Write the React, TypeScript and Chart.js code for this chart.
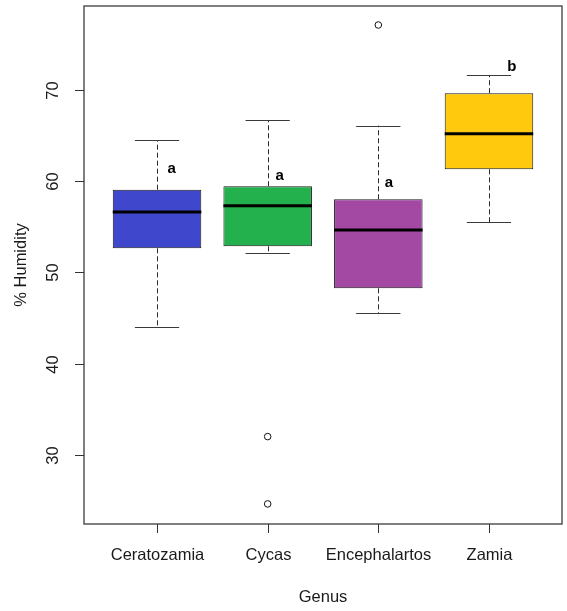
import React, { useEffect, useRef } from "react";
import { Chart, registerables } from "chart.js";

Chart.register(...registerables);

// ---- data ----
const categories = ["Ceratozamia", "Cycas", "Encephalartos", "Zamia"];
const whiskerLow = [44.05, 52.15, 45.52, 55.48];
const q1 = [52.63, 52.85, 48.25, 61.28];
const medians = [56.61, 57.3, 54.64, 65.18];
const q3 = [59.05, 59.42, 58.0, 69.61];
const whiskerHigh = [64.46, 66.68, 66.06, 71.61];
const outlierGroup = [2, 2, 3];
const outlierValues = [32.01, 24.64, 77.08];
const letters = ["a", "a", "a", "b"];
const letterX = [1.132, 2.108, 3.096, 4.207];
const letterY = [61.3, 60.6, 59.75, 72.5];
const yTicks = [30, 40, 50, 60, 70];
const boxColors = ["#3F48CC", "#22B14C", "#A349A4", "#FFC90E"];
const yMin = 22.44;
const yMax = 79.16;

const FONT = "'Liberation Sans', Arial, sans-serif";

const boxPlugin = {
  id: "rboxplot",
  afterDatasetsDraw(chart: any) {
    const { ctx, scales } = chart;
    const x = scales.x;
    const y = scales.y;
    const meta = chart.getDatasetMeta(0);
    ctx.save();
    categories.forEach((_, i) => {
      const bar = meta.data[i];
      const cx = x.getPixelForValue(i + 1);
      const half = bar.width / 2;
      const px = Math.round(cx) + 0.5;
      // dashed whiskers
      ctx.strokeStyle = "#2a2a2a";
      ctx.lineWidth = 1;
      ctx.setLineDash([5, 3]);
      ctx.beginPath();
      ctx.moveTo(px, y.getPixelForValue(q3[i]));
      ctx.lineTo(px, y.getPixelForValue(whiskerHigh[i]));
      ctx.moveTo(px, y.getPixelForValue(q1[i]));
      ctx.lineTo(px, y.getPixelForValue(whiskerLow[i]));
      ctx.stroke();
      ctx.setLineDash([]);
      // caps
      ctx.strokeStyle = "#3a3a3a";
      ctx.beginPath();
      const yh = Math.round(y.getPixelForValue(whiskerHigh[i])) + 0.5;
      const yl = Math.round(y.getPixelForValue(whiskerLow[i])) + 0.5;
      ctx.moveTo(cx - half / 2, yh);
      ctx.lineTo(cx + half / 2, yh);
      ctx.moveTo(cx - half / 2, yl);
      ctx.lineTo(cx + half / 2, yl);
      ctx.stroke();
      // median
      ctx.strokeStyle = "#000";
      ctx.lineWidth = 3;
      ctx.beginPath();
      const ym = y.getPixelForValue(medians[i]);
      ctx.moveTo(cx - half, ym);
      ctx.lineTo(cx + half, ym);
      ctx.stroke();
      // significance letters
      ctx.fillStyle = "#000";
      ctx.font = `bold 15px ${FONT}`;
      ctx.textAlign = "center";
      ctx.textBaseline = "middle";
      ctx.fillText(letters[i], x.getPixelForValue(letterX[i]), y.getPixelForValue(letterY[i]));
    });
    ctx.restore();
  },
  afterDraw(chart: any) {
    const { ctx, chartArea: a, scales } = chart;
    const x = scales.x;
    const y = scales.y;
    ctx.save();
    // plot frame
    ctx.strokeStyle = "#555";
    ctx.lineWidth = 1.5;
    ctx.strokeRect(a.left, a.top, a.right - a.left, a.bottom - a.top);
    ctx.lineWidth = 1;
    ctx.strokeStyle = "#333";
    ctx.fillStyle = "#1a1a1a";
    ctx.font = `16.5px ${FONT}`;
    // y ticks
    yTicks.forEach((t) => {
      const py = Math.round(y.getPixelForValue(t)) + 0.5;
      ctx.beginPath();
      ctx.moveTo(a.left - 9, py);
      ctx.lineTo(a.left, py);
      ctx.stroke();
      ctx.save();
      ctx.translate(a.left - 31, py);
      ctx.rotate(-Math.PI / 2);
      ctx.textAlign = "center";
      ctx.textBaseline = "middle";
      ctx.fillText(String(t), 0, 0);
      ctx.restore();
    });
    // x ticks
    categories.forEach((c, i) => {
      const px = Math.round(x.getPixelForValue(i + 1)) + 0.5;
      ctx.beginPath();
      ctx.moveTo(px, a.bottom);
      ctx.lineTo(px, a.bottom + 9);
      ctx.stroke();
      ctx.textAlign = "center";
      ctx.textBaseline = "middle";
      ctx.fillText(c, px, a.bottom + 31);
    });
    // axis titles
    ctx.textAlign = "center";
    ctx.textBaseline = "middle";
    ctx.fillText("Genus", (a.left + a.right) / 2, a.bottom + 73);
    ctx.save();
    ctx.translate(a.left - 63, (a.top + a.bottom) / 2);
    ctx.rotate(-Math.PI / 2);
    ctx.fillText("% Humidity", 0, 0);
    ctx.restore();
    ctx.restore();
  },
};

export default function App() {
  const ref = useRef<HTMLCanvasElement | null>(null);
  useEffect(() => {
    if (!ref.current) return;
    const chart = new Chart(ref.current, {
      type: "bar",
      data: {
        datasets: [
          {
            type: "bar",
            data: categories.map((_, i) => ({ x: i + 1, y: [q1[i], q3[i]] })) as any,
            backgroundColor: boxColors,
            borderColor: "#1a1a1a",
            borderWidth: 1,
            borderSkipped: false,
            barPercentage: 0.8,
            categoryPercentage: 1,
          } as any,
          {
            type: "scatter",
            data: outlierGroup.map((g, i) => ({ x: g, y: outlierValues[i] })),
            pointRadius: 3.3,
            pointBackgroundColor: "rgba(0,0,0,0)",
            pointBorderColor: "#111",
            pointBorderWidth: 1,
            showLine: false,
          } as any,
        ],
      },
      options: {
        responsive: false,
        maintainAspectRatio: false,
        animation: false,
        events: [],
        layout: { padding: { left: 84, right: 4, top: 6, bottom: 87 } },
        plugins: { legend: { display: false }, tooltip: { enabled: false } },
        scales: {
          x: {
            type: "linear",
            min: 0.34,
            max: 4.66,
            offset: false,
            display: false,
            ticks: { stepSize: 1, includeBounds: false } as any,
          },
          y: { type: "linear", min: yMin, max: yMax, display: false },
        },
      },
      plugins: [boxPlugin],
    });
    return () => chart.destroy();
  }, []);
  return (
    <div style={{ position: "fixed", left: 0, top: 0, width: 567, height: 611, background: "#fff" }}>
      <canvas ref={ref} width={567} height={611} />
    </div>
  );
}
